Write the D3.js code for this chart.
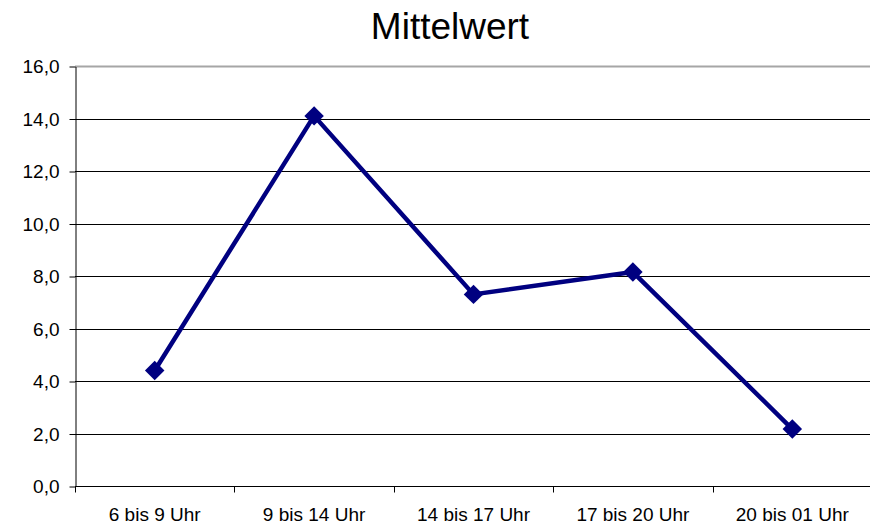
<!DOCTYPE html>
<html>
<head>
<meta charset="utf-8">
<script src="https://cdn.jsdelivr.net/npm/d3@7"></script>
<style>
  body { margin: 0; background: #fff; }
  svg { display: block; font-family: "Liberation Sans", Arial, sans-serif; }
</style>
</head>
<body>
<svg id="chart" width="870" height="523"></svg>
<script>
var categories = ["6 bis 9 Uhr", "9 bis 14 Uhr", "14 bis 17 Uhr", "17 bis 20 Uhr", "20 bis 01 Uhr"];
var values = [4.4, 14.1, 7.3, 8.15, 2.17];
var yTicks = [0, 2, 4, 6, 8, 10, 12, 14, 16];
var title = "Mittelwert";

var width = 870, height = 523;
var margin = {top: 66, right: -2, bottom: 37, left: 75};

var svg = d3.select("#chart");

var xScale = d3.scaleBand()
  .domain(categories)
  .range([margin.left, width - margin.right]);

var yScale = d3.scaleLinear()
  .domain([0, 16])
  .range([height - margin.bottom, margin.top]);

var fmt = function(d) { return d3.format(".1f")(d).replace(".", ","); };

// gridlines
svg.append("g")
  .selectAll("line")
  .data(yTicks.filter(d => d > 0))
  .enter().append("line")
  .attr("x1", margin.left)
  .attr("x2", width)
  .attr("y1", d => Math.round(yScale(d)) + 0.5)
  .attr("y2", d => Math.round(yScale(d)) + 0.5)
  .attr("stroke", d => d === 16 ? "#a6a6a6" : "#000")
  .attr("stroke-width", d => d === 16 ? 2 : 1);

// y axis
var yAxis = d3.axisLeft(yScale)
  .tickValues(yTicks)
  .tickFormat(fmt)
  .tickSize(6)
  .tickSizeOuter(0);

var gy = svg.append("g")
  .attr("transform", `translate(${margin.left + 0.5}, 0.5)`)
  .call(yAxis);
gy.select(".domain").attr("stroke", "#000");
gy.selectAll(".tick text")
  .attr("x", -16)
  .style("font-size", "19px")
  .style("font-family", "Liberation Sans, Arial, sans-serif")
  .attr("fill", "#000");

// x axis with ticks at category boundaries
var gx = svg.append("g")
  .attr("transform", `translate(0, ${Math.round(yScale(0)) + 0.5})`);
gx.append("line")
  .attr("x1", margin.left)
  .attr("x2", width)
  .attr("stroke", "#000");
gx.selectAll("line.tick")
  .data(categories)
  .enter().append("line")
  .attr("class", "tick")
  .attr("x1", d => Math.round(xScale(d)) + 0.5)
  .attr("x2", d => Math.round(xScale(d)) + 0.5)
  .attr("y1", 0)
  .attr("y2", 6)
  .attr("stroke", "#000");
gx.selectAll("text")
  .data(categories)
  .enter().append("text")
  .attr("x", d => xScale(d) + xScale.bandwidth() / 2)
  .attr("y", 34)
  .attr("text-anchor", "middle")
  .style("font-size", "19px")
  .text(d => d);

// line
var line = d3.line()
  .x((d, i) => xScale(categories[i]) + xScale.bandwidth() / 2)
  .y(d => yScale(d));

svg.append("path")
  .datum(values)
  .attr("fill", "none")
  .attr("stroke", "#000080")
  .attr("stroke-width", 4.5)
  .attr("stroke-linejoin", "round")
  .attr("d", line);

var diamond = d3.symbol().type(d3.symbolSquare).size(190);
svg.selectAll("path.marker")
  .data(values)
  .enter().append("path")
  .attr("class", "marker")
  .attr("d", diamond)
  .attr("fill", "#000080")
  .attr("transform", (d, i) => `translate(${xScale(categories[i]) + xScale.bandwidth() / 2}, ${yScale(d)}) rotate(45)`);

// title
svg.append("text")
  .attr("x", 450)
  .attr("y", 39)
  .attr("text-anchor", "middle")
  .style("font-size", "37px")
  .text(title);
</script>
</body>
</html>
